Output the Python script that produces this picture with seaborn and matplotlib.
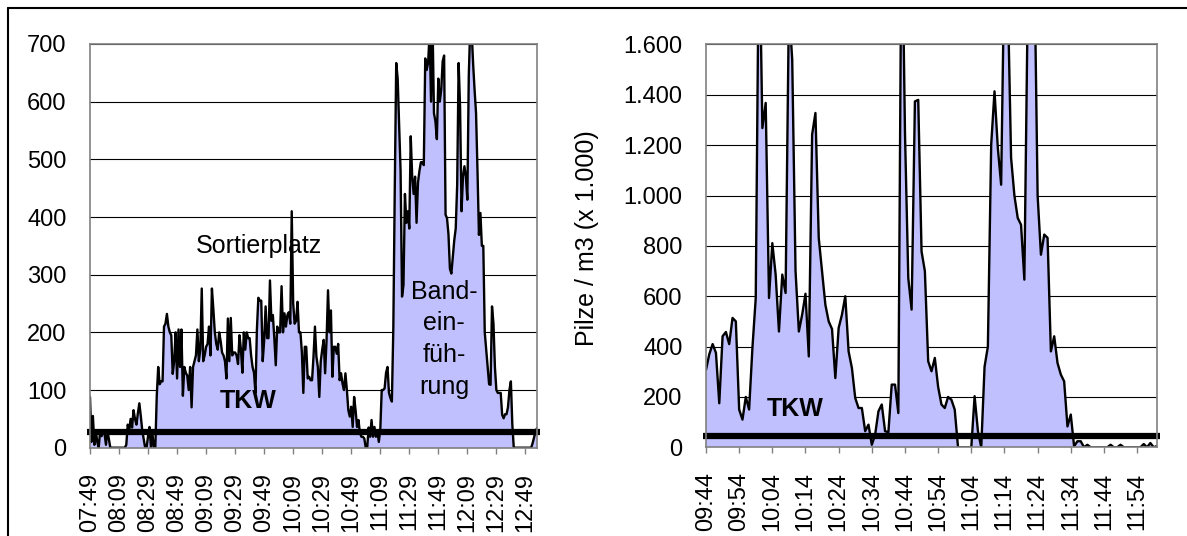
import numpy as np
import pandas as pd
import seaborn as sns
import matplotlib.pyplot as plt
from matplotlib.ticker import FuncFormatter
from matplotlib.lines import Line2D

# left panel: Sortierplatz / Bandeinfuehrung, one value per minute from 07:49
left_start = "07:49"
left_values = [
    88, 10, 55, 5, 30, 10, 0, 30, 20, 30, 25, 5, 30, 15, 0,
    0, 0, 0, 0, 0, 0, 0, 0, 0, 0,
    5, 40, 30, 50, 35, 65, 50, 40, 60, 77, 55, 30, 15, 0, 0, 20, 36, 0, 25, 0,
    0, 90, 140, 110, 115, 115, 210, 215, 232, 210, 200, 195, 128, 150, 200, 120,
    205, 140, 205, 90, 140, 130, 125, 100, 140, 70, 140, 150, 160, 205, 150, 170,
    276, 150, 160, 175, 180, 210, 160, 276, 240, 200, 180, 170, 200, 185, 165, 160,
    150, 120, 224, 150, 225, 160, 165, 165, 160, 145, 195,
    170, 130, 200, 170, 200, 190, 190, 160, 140, 130, 95, 205, 260, 255, 255, 150,
    185, 245, 190, 190, 290, 220, 230, 190, 143, 210, 200, 200, 280, 200, 233, 210,
    230, 235, 215, 410, 250, 215, 220, 253, 200, 200, 165, 95, 175, 175, 120, 123,
    117, 117, 158, 210, 158, 140, 88, 150, 170, 187, 129, 187, 273, 200, 238, 123,
    175, 175, 163, 180, 117, 129, 111, 100, 129, 100, 65, 54, 71, 36, 88, 65,
    36, 48, 25, 19, 19, 16, 0, 0, 35, 19, 48, 19, 36, 19, 30,
    10, 30, 100, 100, 103, 130, 140, 95, 86, 80, 207, 450, 667, 640, 560, 480,
    262, 282, 440, 390, 410, 380, 540, 470, 440, 470, 390, 460, 480, 495, 495, 490,
    675, 655, 668, 720, 600, 740, 580, 566, 535, 640, 600, 620, 670, 680, 404, 398,
    370, 310, 302, 330, 360, 380, 456, 667, 590, 410, 470, 488, 470, 430, 646, 730,
    720, 665, 620, 580, 480, 369, 407, 350, 350, 200, 170, 140, 110, 109, 245, 215,
    140, 100, 95, 95, 95, 57, 51, 58, 58, 70, 100, 115, 40, 0,
    0, 0, 0, 0, 0, 0, 0, 0, 0, 0, 0, 0, 8, 18, 28, 34,
]
left_threshold = 28

# right panel, one value per minute from 09:44
right_start = "09:44"
right_values = [
    308, 370, 410, 375, 175, 441, 458, 410, 514, 500, 150, 110, 200, 150, 395, 593,
    2100, 1268, 1368, 593, 811, 686, 460, 686, 613, 1750, 1540, 700, 460, 527, 610, 361,
    1242, 1328, 831, 699, 566, 500, 470, 275, 474, 527, 600, 381, 315, 196, 156, 156,
    64, 90, 10, 50, 143, 170, 64, 60, 249, 249, 136, 2200, 1250, 672, 547, 1374,
    1380, 778, 700, 342, 302, 355, 240, 170, 156, 200, 189, 150, 0, 0, 0, 0,
    0, 203, 64, 0, 320, 400, 1202, 1414, 1189, 1043, 1950, 1800, 1150, 1000, 911, 884,
    666, 1750, 2200, 1950, 1000, 765, 845, 832, 381, 441, 335, 289, 262, 83, 130, 4,
    24, 24, 0, 10, 0, 0, 0, 0, 0, 0, 10, 0, 0, 10, 0, 0,
    0, 0, 0, 0, 13, 0, 17, 0, 5,
]
right_threshold = 46

fill_color = "#C0C0FF"

sns.set_style("white")
plt.rcParams['font.family'] = ['Liberation Sans', 'DejaVu Sans']
plt.rcParams['text.color'] = 'black'
plt.rcParams['axes.labelcolor'] = 'black'
plt.rcParams['xtick.labelcolor'] = 'black'
plt.rcParams['ytick.labelcolor'] = 'black'

W, H = 1187, 536
fig = plt.figure(figsize=(W / 100, H / 100), dpi=100)
ax1 = fig.add_axes([90 / W, (H - 447.7) / H, 447 / W, 403.7 / H])
ax2 = fig.add_axes([706 / W, (H - 447.3) / H, 451 / W, 402.8 / H])


def german(v, pos):
    return f"{int(v):,}".replace(",", ".")


def draw_panel(ax, start, values, ymax, ystep, tick_every, threshold):
    times = pd.date_range("2000-01-01 " + start, periods=len(values), freq="min")
    df = pd.DataFrame({"idx": np.arange(len(values)), "val": values})
    ax.fill_between(df["idx"], df["val"], 0, color=fill_color, lw=0, zorder=2)
    sns.lineplot(data=df, x="idx", y="val", ax=ax, color="black", lw=1.7, zorder=3)
    ax.set_xlim(0, len(values) - 1)
    ax.set_ylim(0, ymax)
    ticks = np.arange(0, len(values), tick_every)
    ax.set_xticks(ticks)
    ax.set_xticklabels(times[ticks].strftime("%H:%M"))
    ax.set_yticks(np.arange(0, ymax + 1, ystep))
    ax.yaxis.set_major_formatter(FuncFormatter(german))
    ax.set_xlabel("")
    ax.set_ylabel("")
    ax.set_axisbelow(True)
    ax.yaxis.grid(True, color="black", lw=0.8)
    ax.xaxis.grid(False)
    for s in ax.spines.values():
        s.set_color("#808080")
        s.set_linewidth(1.2)
        s.set_zorder(5)
    ax.tick_params(axis="x", bottom=True, length=4, width=1, color="#808080",
                   labelcolor="black", pad=14, labelsize=17, labelrotation=90)
    ax.tick_params(axis="y", left=False, length=0, pad=17, labelsize=17,
                   labelcolor="black")
    ax.axhline(threshold, xmin=-0.006, xmax=1.006, color="black", lw=4.5,
               solid_capstyle="butt", clip_on=False, zorder=4)


draw_panel(ax1, left_start, left_values, 700, 100, 20, left_threshold)
draw_panel(ax2, right_start, right_values, 1600, 200, 10, right_threshold)

ax1.text(116.6, 350, "Sortierplatz", ha="center", va="center", fontsize=18)
ax1.text(109.3, 81, "TKW", ha="center", va="center", fontsize=18, weight="bold")
ax1.text(244, 188, "Band-\nein-\nfüh-\nrung", ha="center", va="center",
         fontsize=18, linespacing=1.4)
ax2.text(26.9, 152, "TKW", ha="center", va="center", fontsize=18, weight="bold")

ax2.set_ylabel("Pilze / m3 (x 1.000)", fontsize=18, va="center")
ax2.yaxis.set_label_coords(-0.264, 0.519)

# outer frame (only top and left edges visible)
fig.add_artist(Line2D([8 / W, 8 / W], [0, 1 - 8 / H], transform=fig.transFigure,
                      color="black", lw=1.5))
fig.add_artist(Line2D([8 / W, 1], [1 - 8 / H, 1 - 8 / H], transform=fig.transFigure,
                      color="black", lw=1.5))

fig.savefig("out.png", dpi=100)
